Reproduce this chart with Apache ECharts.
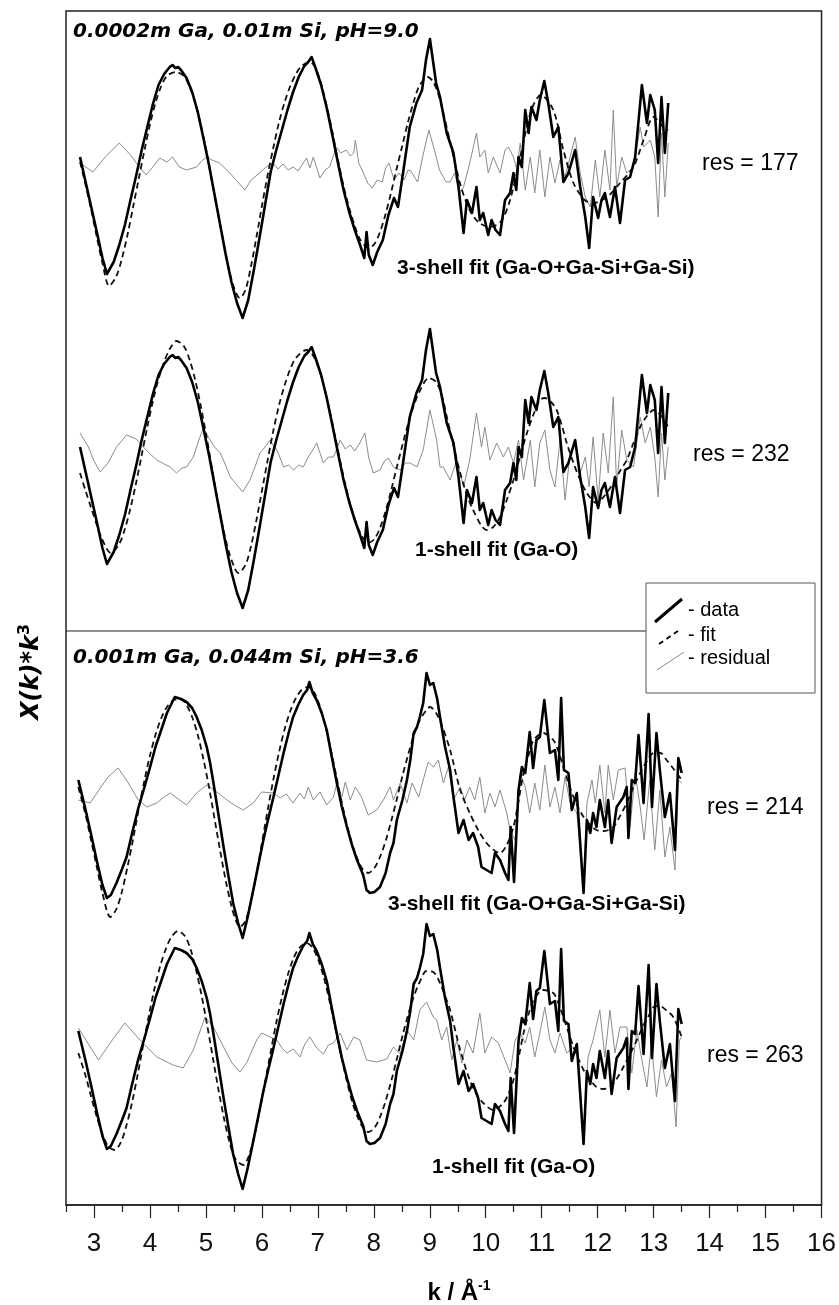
<!DOCTYPE html>
<html>
<head>
<meta charset="utf-8">
<script src="https://cdn.jsdelivr.net/npm/echarts@6/dist/echarts.min.js"></script>
<style>
html, body { margin: 0; padding: 0; background: #fff; }
#chart { width: 839px; height: 1305px; }
</style>
</head>
<body>
<div id="chart"></div>
<script>
// x axis ticks (k, 1/Angstrom)
var majorTicks = [3, 4, 5, 6, 7, 8, 9, 10, 11, 12, 13, 14, 15, 16];
var minorTicks = [2.5, 3.5, 4.5, 5.5, 6.5, 7.5, 8.5, 9.5, 10.5, 11.5, 12.5, 13.5, 14.5, 15.5];

// measured chi(k)*k^3, 0.0002m Ga / 0.01m Si / pH 9.0 (panels 1 and 2)
var dataA = [[2.75,0.8],[2.85,-1.7],[2.95,-4.2],[3.05,-6.7],[3.15,-9.3],[3.23,-10.9],[3.35,-9.7],[3.45,-8.0],[3.55,-6.0],[3.65,-3.5],[3.75,-1.1],[3.85,1.5],[3.95,3.8],[4.05,6.1],[4.15,8.0],[4.25,9.1],[4.35,9.8],[4.4,10.0],[4.45,9.7],[4.5,9.8],[4.55,9.5],[4.65,8.7],[4.75,7.3],[4.85,5.3],[4.95,2.7],[5.05,0.0],[5.15,-3.0],[5.25,-6.0],[5.35,-9.0],[5.45,-11.7],[5.55,-13.8],[5.65,-15.3],[5.75,-13.5],[5.85,-10.5],[5.95,-7.3],[6.05,-4.0],[6.15,-0.7],[6.25,1.5],[6.35,3.5],[6.45,5.5],[6.55,7.3],[6.65,8.8],[6.75,9.9],[6.82,10.3],[6.88,10.8],[6.95,9.7],[7.05,8.0],[7.15,5.7],[7.25,3.0],[7.35,0.2],[7.45,-2.5],[7.55,-4.7],[7.65,-6.5],[7.75,-8.1],[7.82,-9.3],[7.86,-6.7],[7.9,-9.0],[7.97,-10.0],[8.05,-8.7],[8.15,-7.5],[8.25,-5.0],[8.35,-3.3],[8.42,-4.2],[8.5,-1.2],[8.63,3.8],[8.75,6.2],[8.85,7.5],[8.92,10.5],[8.99,12.6],[9.1,8.2],[9.17,6.8],[9.29,3.2],[9.35,2.2],[9.41,1.2],[9.5,-2.2],[9.59,-6.8],[9.65,-3.5],[9.74,-4.8],[9.82,-2.2],[9.88,-5.5],[9.94,-4.8],[10.03,-7.0],[10.09,-5.5],[10.16,-6.5],[10.24,-7.0],[10.33,-3.5],[10.42,-2.8],[10.48,-0.8],[10.53,-2.5],[10.57,0.8],[10.63,-0.2],[10.69,5.5],[10.75,3.2],[10.8,5.8],[10.89,4.5],[10.95,6.5],[11.03,8.4],[11.1,6.2],[11.19,2.8],[11.28,3.8],[11.37,-1.7],[11.46,-0.8],[11.58,1.5],[11.67,-2.2],[11.76,-5.2],[11.83,-8.3],[11.9,-3.2],[11.99,-5.3],[12.05,-3.5],[12.11,-2.8],[12.2,-5.2],[12.29,-2.2],[12.38,-5.8],[12.47,-1.5],[12.56,-1.2],[12.65,0.8],[12.77,8.0],[12.86,4.2],[12.92,7.0],[13.0,5.5],[13.06,0.2],[13.12,6.8],[13.18,1.2],[13.24,6.2]];

// 3-shell fit and residual, panel 1
var fit1 = [[2.75,0.3],[2.85,-2.0],[2.95,-4.5],[3.05,-7.2],[3.15,-9.8],[3.27,-12.1],[3.4,-11.1],[3.5,-9.3],[3.6,-6.9],[3.7,-4.1],[3.8,-1.3],[3.9,1.5],[4.0,4.1],[4.1,6.3],[4.2,7.9],[4.3,8.9],[4.45,9.3],[4.6,8.9],[4.7,7.9],[4.8,6.3],[4.9,4.1],[5.0,1.5],[5.1,-1.5],[5.2,-4.5],[5.3,-7.5],[5.4,-10.3],[5.5,-12.3],[5.6,-13.3],[5.7,-12.5],[5.8,-10.1],[5.9,-7.1],[6.0,-3.9],[6.1,-0.9],[6.2,1.8],[6.3,4.3],[6.4,6.3],[6.5,7.9],[6.6,9.1],[6.7,9.9],[6.85,10.3],[6.95,9.7],[7.05,8.1],[7.15,5.9],[7.25,3.3],[7.35,0.5],[7.45,-2.1],[7.55,-4.3],[7.65,-6.1],[7.75,-7.5],[7.9,-8.3],[8.0,-7.9],[8.1,-6.7],[8.2,-4.9],[8.3,-2.7],[8.4,-0.3],[8.5,2.0],[8.6,4.3],[8.7,6.3],[8.8,7.9],[8.95,8.8],[9.05,8.3],[9.15,6.9],[9.25,4.7],[9.35,2.3],[9.45,-0.1],[9.55,-2.3],[9.7,-4.5],[9.85,-5.7],[10.05,-6.2],[10.25,-5.7],[10.42,-3.5],[10.6,0.8],[10.8,5.5],[10.97,7.0],[11.19,5.5],[11.37,1.5],[11.55,-1.8],[11.75,-3.5],[11.9,-3.8],[12.15,-3.2],[12.38,-1.8],[12.62,-0.2],[12.8,2.5],[12.98,4.8],[13.15,3.8],[13.24,3.5]];
var res1 = [[2.75,0.2],[2.98,-0.7],[3.2,0.8],[3.45,2.2],[3.65,1.0],[3.78,0.0],[3.93,-1.0],[4.05,-0.2],[4.17,0.7],[4.3,0.3],[4.4,0.8],[4.52,-0.2],[4.65,-0.5],[4.83,-0.2],[4.92,0.4],[5.01,0.8],[5.1,0.5],[5.24,0.2],[5.42,-0.8],[5.55,-1.6],[5.69,-2.5],[5.8,-1.5],[5.95,-0.8],[6.07,-0.2],[6.19,0.2],[6.28,-0.4],[6.37,0.1],[6.46,-0.5],[6.55,-0.2],[6.64,-0.6],[6.72,0.1],[6.79,0.7],[6.85,-0.3],[6.91,0.8],[7.03,-1.3],[7.12,-0.5],[7.2,-0.2],[7.32,1.8],[7.4,1.2],[7.5,1.5],[7.57,0.9],[7.63,1.2],[7.66,2.5],[7.72,0.2],[7.78,-0.5],[7.88,-1.8],[7.96,-2.3],[8.05,-1.5],[8.14,-1.7],[8.2,-0.3],[8.26,0.2],[8.35,-1.5],[8.44,-0.8],[8.53,-1.5],[8.6,-0.5],[8.65,-0.6],[8.77,-1.7],[8.86,0.8],[8.97,3.5],[9.07,1.5],[9.16,-0.5],[9.28,-1.7],[9.35,-1.7],[9.43,-0.8],[9.52,-2.8],[9.59,-2.2],[9.7,0.2],[9.82,3.2],[9.88,0.8],[9.97,1.5],[10.03,-0.8],[10.12,0.8],[10.24,-0.8],[10.33,1.5],[10.39,1.8],[10.48,0.8],[10.54,-0.5],[10.6,2.2],[10.69,-2.5],[10.78,0.8],[10.86,-2.8],[10.95,1.5],[11.04,-3.2],[11.13,0.8],[11.22,-1.8],[11.31,0.5],[11.4,-1.2],[11.49,0.8],[11.58,2.8],[11.67,-0.8],[11.76,-3.2],[11.85,-4.2],[11.94,0.5],[12.02,-3.2],[12.11,1.5],[12.2,-2.5],[12.26,5.5],[12.32,-2.2],[12.41,0.8],[12.5,-0.8],[12.62,-0.2],[12.74,3.8],[12.8,1.8],[12.92,2.5],[13.0,0.8],[13.06,-5.2],[13.12,3.2],[13.18,-3.2],[13.24,2.2]];

// 1-shell fit and residual, panel 2
var fit2 = [[2.75,-1.8],[2.85,-3.6],[2.95,-5.3],[3.05,-7.0],[3.15,-8.5],[3.3,-9.8],[3.45,-8.9],[3.55,-7.4],[3.65,-5.3],[3.75,-2.8],[3.85,0.0],[3.95,2.8],[4.05,5.4],[4.15,7.6],[4.25,9.3],[4.35,10.6],[4.47,11.4],[4.6,10.9],[4.7,9.6],[4.8,7.6],[4.9,5.0],[5.0,2.0],[5.1,-1.2],[5.2,-4.4],[5.3,-7.3],[5.4,-9.6],[5.5,-11.2],[5.57,-11.8],[5.7,-11.0],[5.8,-9.1],[5.9,-6.4],[6.0,-3.4],[6.1,-0.4],[6.2,2.5],[6.3,5.0],[6.4,7.0],[6.5,8.6],[6.6,9.7],[6.79,10.5],[6.9,10.0],[7.0,8.8],[7.1,6.9],[7.2,4.5],[7.3,1.8],[7.4,-0.9],[7.5,-3.4],[7.6,-5.5],[7.7,-7.2],[7.8,-8.3],[7.89,-8.8],[8.0,-8.4],[8.1,-7.3],[8.2,-5.6],[8.3,-3.5],[8.4,-1.2],[8.5,1.0],[8.6,3.1],[8.7,4.9],[8.8,6.3],[8.97,7.7],[9.1,7.3],[9.2,6.0],[9.3,3.6],[9.4,1.2],[9.53,-1.8],[9.65,-4.0],[9.76,-5.5],[9.9,-7.0],[10.0,-7.5],[10.12,-7.2],[10.24,-6.2],[10.36,-4.5],[10.48,-2.5],[10.6,-0.1],[10.72,2.2],[10.84,4.1],[10.95,5.5],[11.04,5.7],[11.15,5.3],[11.25,4.5],[11.34,3.0],[11.43,1.2],[11.55,-0.8],[11.67,-2.5],[11.8,-3.9],[11.96,-4.8],[12.1,-4.1],[12.26,-2.8],[12.38,-1.6],[12.5,-0.5],[12.62,1.2],[12.74,2.8],[12.86,3.9],[12.98,4.5],[13.1,4.0],[13.24,2.8]];
var res2 = [[2.75,2.2],[2.9,0.8],[3.0,-0.6],[3.11,-1.7],[3.25,-0.8],[3.4,0.8],[3.58,2.0],[3.75,1.6],[3.88,0.8],[4.0,0.1],[4.12,-0.5],[4.25,-0.9],[4.36,-1.2],[4.47,-1.8],[4.57,-1.3],[4.65,-1.2],[4.77,-0.2],[4.87,1.5],[4.95,2.7],[5.07,1.5],[5.15,0.8],[5.25,0.2],[5.33,-0.8],[5.43,-2.2],[5.55,-3.0],[5.65,-3.7],[5.78,-2.5],[5.87,-1.2],[5.96,0.2],[6.05,0.8],[6.14,1.5],[6.2,0.9],[6.26,0.5],[6.32,-0.3],[6.38,-1.2],[6.47,-1.0],[6.56,-1.5],[6.65,-1.0],[6.73,-1.2],[6.82,-0.2],[6.9,0.5],[6.97,1.2],[7.09,-0.8],[7.18,-0.2],[7.27,-0.2],[7.33,0.6],[7.39,1.5],[7.48,0.6],[7.57,1.0],[7.65,0.4],[7.74,1.2],[7.83,2.2],[7.9,-0.3],[7.98,-1.8],[8.1,-1.5],[8.18,-0.6],[8.25,-0.3],[8.34,-1.2],[8.46,-1.5],[8.55,-0.8],[8.64,-0.8],[8.76,-1.2],[8.87,0.5],[8.99,4.5],[9.11,1.5],[9.17,-1.2],[9.23,-1.2],[9.35,-2.5],[9.47,-0.5],[9.59,-3.2],[9.7,-0.5],[9.82,4.2],[9.91,0.8],[9.97,2.8],[10.06,-0.5],[10.18,1.2],[10.3,-0.2],[10.39,0.8],[10.48,-0.8],[10.57,1.5],[10.66,-2.5],[10.78,1.5],[10.86,-3.2],[10.95,1.2],[11.04,2.5],[11.13,-1.5],[11.22,-3.2],[11.31,1.5],[11.4,-4.5],[11.49,0.2],[11.58,1.5],[11.67,-1.8],[11.76,-0.2],[11.83,-3.2],[11.9,1.8],[11.99,-4.5],[12.08,2.2],[12.17,-1.8],[12.26,5.8],[12.32,-3.2],[12.41,2.5],[12.5,-0.5],[12.62,-1.2],[12.74,3.8],[12.83,1.2],[12.92,2.8],[13.0,-0.2],[13.06,-4.2],[13.12,2.2],[13.18,-2.5],[13.24,0.8]];

// measured chi(k)*k^3, 0.001m Ga / 0.044m Si / pH 3.6 (panels 3 and 4)
var dataB = [[2.72,1.5],[2.85,-1.5],[2.95,-4.0],[3.05,-6.6],[3.15,-9.0],[3.23,-10.3],[3.3,-10.0],[3.4,-8.8],[3.5,-7.4],[3.58,-6.2],[3.68,-3.8],[3.79,-1.3],[3.9,0.8],[4.0,2.8],[4.1,4.9],[4.18,6.2],[4.3,8.2],[4.44,9.8],[4.55,9.6],[4.65,9.3],[4.75,8.7],[4.83,7.8],[4.92,6.5],[5.01,4.8],[5.07,3.2],[5.13,1.2],[5.22,-2.0],[5.31,-5.2],[5.4,-8.2],[5.48,-10.8],[5.57,-12.8],[5.65,-14.3],[5.74,-12.2],[5.84,-9.5],[5.93,-7.0],[6.02,-4.5],[6.11,-2.3],[6.2,-0.2],[6.29,2.0],[6.38,4.2],[6.47,6.2],[6.55,7.8],[6.64,9.0],[6.73,10.0],[6.8,10.5],[6.84,11.3],[6.9,10.2],[6.97,9.5],[7.06,8.2],[7.15,6.5],[7.24,3.8],[7.33,1.2],[7.42,-1.2],[7.51,-3.2],[7.6,-5.0],[7.69,-6.5],[7.8,-8.0],[7.86,-9.5],[7.92,-9.8],[8.0,-9.7],[8.1,-9.2],[8.2,-7.8],[8.28,-5.8],[8.34,-4.8],[8.4,-2.5],[8.5,-0.5],[8.58,1.5],[8.64,3.5],[8.7,6.2],[8.76,6.8],[8.81,7.8],[8.87,9.2],[8.93,12.2],[8.99,11.0],[9.05,11.2],[9.12,9.6],[9.17,7.8],[9.26,4.8],[9.35,2.5],[9.41,-0.2],[9.5,-3.8],[9.59,-2.5],[9.68,-4.5],[9.76,-3.8],[9.85,-5.2],[9.91,-7.2],[10.0,-7.5],[10.09,-7.8],[10.15,-5.8],[10.24,-6.5],[10.33,-7.8],[10.39,-8.5],[10.43,-3.2],[10.49,-8.7],[10.57,0.5],[10.63,2.8],[10.69,2.2],[10.77,6.3],[10.83,2.7],[10.89,5.5],[10.95,5.8],[11.03,9.5],[11.13,4.2],[11.22,4.5],[11.28,1.5],[11.33,9.7],[11.38,2.5],[11.46,2.2],[11.52,-1.5],[11.61,0.2],[11.73,-9.8],[11.79,-2.5],[11.85,-3.8],[11.9,-1.8],[11.96,-3.2],[12.02,-0.5],[12.11,-3.2],[12.17,-0.5],[12.23,-4.8],[12.32,-1.2],[12.44,-0.2],[12.5,0.8],[12.53,-4.3],[12.59,1.5],[12.65,1.2],[12.71,6.0],[12.8,-0.8],[12.89,8.1],[12.95,-1.2],[13.03,6.2],[13.09,2.5],[13.18,-2.2],[13.27,0.2],[13.36,-5.5],[13.42,3.7],[13.48,2.2]];

// 3-shell fit and residual, panel 3
var fit3 = [[2.72,0.8],[2.85,-2.0],[2.95,-4.6],[3.05,-7.2],[3.15,-9.8],[3.29,-12.2],[3.4,-11.4],[3.5,-9.6],[3.6,-7.1],[3.7,-4.3],[3.8,-1.3],[3.9,1.5],[4.0,4.0],[4.1,6.1],[4.2,7.7],[4.3,8.8],[4.42,9.5],[4.55,9.6],[4.65,9.0],[4.75,7.8],[4.85,6.0],[4.95,3.6],[5.05,0.8],[5.15,-2.4],[5.25,-5.6],[5.35,-8.6],[5.45,-11.1],[5.52,-12.4],[5.6,-13.2],[5.7,-12.6],[5.8,-10.6],[5.9,-7.8],[6.0,-4.6],[6.1,-1.4],[6.2,1.6],[6.3,4.3],[6.4,6.6],[6.5,8.4],[6.6,9.7],[6.7,10.5],[6.82,10.8],[6.92,10.3],[7.02,9.0],[7.12,7.0],[7.22,4.6],[7.32,1.9],[7.42,-0.8],[7.52,-3.2],[7.62,-5.2],[7.72,-6.7],[7.8,-7.5],[7.89,-7.8],[8.0,-7.3],[8.1,-6.2],[8.2,-4.6],[8.3,-2.6],[8.4,-0.4],[8.5,1.9],[8.6,4.0],[8.7,5.9],[8.8,7.4],[8.93,8.5],[8.99,8.8],[9.1,8.2],[9.2,7.0],[9.35,4.5],[9.53,0.5],[9.7,-1.8],[9.85,-3.5],[10.0,-4.8],[10.15,-5.6],[10.24,-5.8],[10.36,-5.0],[10.48,-3.2],[10.57,-0.6],[10.66,2.2],[10.75,4.0],[10.84,5.5],[11.01,6.2],[11.19,5.5],[11.28,4.4],[11.37,2.8],[11.46,1.2],[11.55,-0.2],[11.64,-1.3],[11.73,-2.2],[11.85,-3.0],[11.96,-3.5],[12.1,-3.6],[12.26,-3.2],[12.38,-2.1],[12.5,-0.8],[12.62,0.8],[12.74,2.2],[12.86,3.4],[12.98,4.2],[13.1,4.2],[13.21,3.5],[13.35,2.5],[13.48,1.5]];
var res3 = [[2.72,-0.5],[2.93,-0.8],[3.1,0.6],[3.25,1.8],[3.43,2.7],[3.6,1.3],[3.79,-0.5],[3.94,-1.2],[4.12,-0.8],[4.25,-0.2],[4.36,0.2],[4.5,-0.4],[4.65,-1.0],[4.83,0.2],[5.01,1.0],[5.19,0.3],[5.37,-0.5],[5.5,-1.0],[5.66,-1.5],[5.84,-0.8],[5.99,0.3],[6.2,0.2],[6.32,-0.3],[6.43,0.1],[6.55,-0.8],[6.67,0.2],[6.75,-0.4],[6.82,0.8],[6.91,-0.5],[7.03,0.3],[7.15,-1.0],[7.27,-0.2],[7.33,1.2],[7.42,-0.2],[7.48,1.3],[7.57,-0.5],[7.66,0.8],[7.77,-0.2],[7.89,-2.0],[8.04,-1.5],[8.16,-0.5],[8.28,0.8],[8.34,-0.5],[8.46,1.2],[8.58,-0.8],[8.67,1.2],[8.79,-0.2],[8.87,1.5],[8.96,3.3],[9.05,2.8],[9.14,3.5],[9.23,1.2],[9.32,2.8],[9.41,-0.5],[9.53,0.8],[9.61,-0.5],[9.7,0.8],[9.79,-0.5],[9.88,1.8],[9.97,-1.8],[10.06,0.2],[10.15,-1.2],[10.24,0.5],[10.36,-1.8],[10.42,-3.5],[10.51,-4.5],[10.6,2.2],[10.69,0.8],[10.77,-1.8],[10.86,1.2],[10.95,-1.5],[11.04,3.0],[11.13,-1.2],[11.22,0.8],[11.31,-1.8],[11.4,1.8],[11.49,-0.8],[11.61,-1.8],[11.73,-9.2],[11.79,-0.8],[11.88,1.5],[11.94,-0.8],[12.02,3.0],[12.11,-1.8],[12.17,3.0],[12.26,-0.5],[12.35,2.5],[12.47,2.7],[12.56,-3.2],[12.65,2.2],[12.74,-1.2],[12.81,-4.5],[12.91,1.5],[13.0,-5.5],[13.09,0.5],[13.18,-6.2],[13.27,-3.2],[13.36,-7.5],[13.42,1.5],[13.48,1.2]];

// 1-shell fit and residual, panel 4
var fit4 = [[2.72,-0.7],[2.85,-3.0],[2.95,-5.1],[3.05,-7.1],[3.15,-8.8],[3.25,-10.0],[3.37,-10.4],[3.48,-9.6],[3.58,-7.9],[3.68,-5.6],[3.78,-2.8],[3.88,0.2],[3.98,3.1],[4.08,5.8],[4.18,8.0],[4.28,9.7],[4.38,10.9],[4.5,11.5],[4.62,11.0],[4.72,9.7],[4.82,7.6],[4.92,5.0],[5.02,2.0],[5.12,-1.2],[5.22,-4.4],[5.32,-7.3],[5.42,-9.7],[5.52,-11.3],[5.66,-11.9],[5.76,-11.0],[5.86,-9.0],[5.96,-6.3],[6.06,-3.3],[6.16,-0.3],[6.26,2.6],[6.36,5.1],[6.46,7.2],[6.56,8.8],[6.66,9.8],[6.79,10.3],[6.9,9.8],[7.0,8.6],[7.1,6.8],[7.2,4.5],[7.3,1.9],[7.4,-0.8],[7.5,-3.3],[7.6,-5.5],[7.7,-7.1],[7.8,-8.2],[7.89,-8.6],[8.0,-8.2],[8.1,-7.1],[8.2,-5.5],[8.3,-3.5],[8.4,-1.3],[8.5,1.0],[8.6,3.1],[8.7,4.9],[8.8,6.3],[8.93,7.5],[9.05,7.4],[9.17,6.3],[9.26,5.0],[9.35,3.6],[9.53,-0.4],[9.7,-3.4],[9.82,-4.8],[9.94,-5.7],[10.12,-6.4],[10.3,-5.7],[10.39,-4.8],[10.48,-3.4],[10.57,-1.2],[10.66,1.3],[10.75,3.2],[10.84,4.6],[11.01,5.6],[11.19,5.3],[11.28,4.3],[11.37,2.9],[11.46,1.4],[11.55,-0.1],[11.64,-1.3],[11.73,-2.4],[11.85,-3.4],[11.96,-4.1],[12.08,-4.3],[12.2,-4.1],[12.32,-3.3],[12.44,-2.1],[12.56,-0.8],[12.68,0.6],[12.8,2.1],[12.92,3.3],[12.98,3.9],[13.09,4.0],[13.2,3.6],[13.33,2.9],[13.48,0.9]];
var res4 = [[2.72,1.8],[2.9,0.2],[3.08,-1.4],[3.3,0.4],[3.55,2.3],[3.82,0.6],[4.12,-1.1],[4.41,-1.9],[4.59,-2.2],[4.77,-0.4],[4.98,2.9],[5.13,1.9],[5.31,-0.1],[5.46,-1.7],[5.6,-2.6],[5.72,-1.7],[5.9,0.6],[5.99,1.3],[6.14,0.9],[6.26,0.6],[6.35,-0.2],[6.44,-0.7],[6.55,-0.3],[6.67,-1.1],[6.76,0.2],[6.85,0.9],[6.97,-0.2],[7.09,-0.8],[7.18,0.1],[7.27,0.3],[7.39,1.3],[7.51,-0.4],[7.63,0.9],[7.74,0.6],[7.86,-1.4],[8.04,-1.6],[8.22,-1.3],[8.34,-0.1],[8.46,-0.8],[8.58,1.6],[8.7,0.6],[8.81,3.6],[8.93,4.4],[9.05,2.9],[9.11,2.6],[9.2,0.6],[9.29,1.9],[9.38,-1.4],[9.47,0.6],[9.56,-1.7],[9.65,0.6],[9.76,-0.7],[9.88,3.3],[9.97,-0.7],[10.09,0.9],[10.21,0.3],[10.33,-1.4],[10.42,-2.7],[10.51,0.6],[10.6,1.3],[10.69,0.3],[10.77,1.9],[10.86,-1.1],[10.95,1.3],[11.04,3.9],[11.13,0.6],[11.22,-0.7],[11.31,1.3],[11.43,-0.7],[11.55,-0.1],[11.64,-1.4],[11.73,-9.4],[11.81,-1.1],[11.9,0.6],[12.02,3.6],[12.11,-1.1],[12.2,3.6],[12.29,-0.7],[12.38,1.9],[12.5,1.9],[12.59,-2.7],[12.68,1.6],[12.77,-1.4],[12.86,-4.1],[12.94,0.3],[13.03,-5.1],[13.12,-1.4],[13.21,-4.1],[13.3,-2.7],[13.38,-8.1],[13.44,0.6],[13.48,0.9]];

var panelTitles = ['0.0002m Ga, 0.01m Si, pH=9.0', '0.001m Ga, 0.044m Si, pH=3.6'];
var fitLabels = ['3-shell fit (Ga-O+Ga-Si+Ga-Si)', '1-shell fit (Ga-O)', '3-shell fit (Ga-O+Ga-Si+Ga-Si)', '1-shell fit (Ga-O)'];
var resValues = [177, 232, 214, 263];

// layout: zero line of each panel (px) and the frame
var panelCenters = [165, 455, 795, 1046];
var frame = { left: 66, top: 11, width: 757, height: 1194 };
var kMin = 2.5, kMax = 16;

var panels = [
  { data: dataA, fit: fit1, res: res1 },
  { data: dataA, fit: fit2, res: res2 },
  { data: dataB, fit: fit3, res: res3 },
  { data: dataB, fit: fit4, res: res4 }
];

var grids = [{ left: frame.left, top: frame.top, width: frame.width, height: frame.height,
  show: true, borderColor: '#222', borderWidth: 1.5, backgroundColor: 'transparent' }];
var xAxes = [
  { gridIndex: 0, type: 'value', min: kMin, max: kMax, position: 'bottom',
    axisLine: { show: true, lineStyle: { color: '#222', width: 1.5 } },
    axisTick: { show: true, length: 13, customValues: majorTicks, lineStyle: { color: '#222', width: 1.2 } },
    axisLabel: { show: true, customValues: majorTicks, margin: 26, fontSize: 26, color: '#111',
      fontFamily: "'Liberation Sans Narrow', 'Liberation Sans', Arial, sans-serif" },
    splitLine: { show: false } },
  { gridIndex: 0, type: 'value', min: kMin, max: kMax, position: 'bottom',
    axisLine: { show: false },
    axisTick: { show: true, length: 7, customValues: minorTicks, lineStyle: { color: '#222', width: 1.2 } },
    axisLabel: { show: false }, splitLine: { show: false } }
];
var yAxes = [{ gridIndex: 0, type: 'value', min: 0, max: 1, show: false }];
var series = [];

panels.forEach(function (p, i) {
  var gi = i + 1;
  grids.push({ left: frame.left, width: frame.width, top: panelCenters[i] - 160, height: 320 });
  xAxes.push({ gridIndex: gi, type: 'value', min: kMin, max: kMax, show: false });
  yAxes.push({ gridIndex: gi, type: 'value', min: -16, max: 16, show: false });
  series.push({ type: 'line', xAxisIndex: gi + 1, yAxisIndex: gi, data: p.res, symbol: 'none',
    lineStyle: { color: '#8c8c8c', width: 1 }, z: 2 });
  series.push({ type: 'line', xAxisIndex: gi + 1, yAxisIndex: gi, data: p.fit, symbol: 'none', smooth: 0.3,
    lineStyle: { color: '#111', width: 1.8, type: [6, 4] }, z: 3 });
  series.push({ type: 'line', xAxisIndex: gi + 1, yAxisIndex: gi, data: p.data, symbol: 'none',
    lineStyle: { color: '#000', width: 2.6, join: 'round' }, z: 4 });
});

function txt(x, y, s, font, extra) {
  var o = { type: 'text', x: x, y: y, z: 50,
    style: { text: s, font: font, fill: '#000', align: 'left', textAlign: 'left', verticalAlign: 'middle', textVerticalAlign: 'middle' } };
  if (extra) { for (var k in extra) o.style[k] = extra[k]; }
  return o;
}
var titleFont = 'italic bold 20px "DejaVu Sans"';
var fitFont = 'bold 21px "Liberation Sans"';
var resFont = '23px "Liberation Sans"';
var legFont = '20px "Liberation Sans"';

var graphics = [
  txt(73, 32, panelTitles[0], titleFont),
  txt(73, 658, panelTitles[1], titleFont),
  txt(397, 268, fitLabels[0], fitFont),
  txt(415, 550, fitLabels[1], fitFont),
  txt(388, 904, fitLabels[2], fitFont),
  txt(432, 1167, fitLabels[3], fitFont),
  txt(702, 164, 'res = ' + resValues[0], resFont),
  txt(693, 455, 'res = ' + resValues[1], resFont),
  txt(707, 808, 'res = ' + resValues[2], resFont),
  txt(707, 1056, 'res = ' + resValues[3], resFont),
  // separator between the two samples
  { type: 'line', z: 40, shape: { x1: 66, y1: 631, x2: 646, y2: 631 }, style: { stroke: '#222', lineWidth: 1 } },
  // legend box
  { type: 'rect', z: 40, shape: { x: 646, y: 583, width: 169, height: 110 }, style: { fill: '#fff', stroke: '#555', lineWidth: 1 } },
  { type: 'line', z: 45, shape: { x1: 655, y1: 622, x2: 682, y2: 599 }, style: { stroke: '#000', lineWidth: 3 } },
  { type: 'line', z: 45, shape: { x1: 659, y1: 644, x2: 681, y2: 629 }, style: { stroke: '#000', lineWidth: 1.8, lineDash: [5, 4] } },
  { type: 'line', z: 45, shape: { x1: 657, y1: 670, x2: 684, y2: 652 }, style: { stroke: '#8c8c8c', lineWidth: 1 } },
  txt(688, 610, '- data', legFont),
  txt(688, 635, '- fit', legFont),
  txt(688, 658, '- residual', legFont),
  // axis titles
  { type: 'text', x: 459, y: 1293, z: 50,
    style: { text: '{b|k / Å}{s|-1}', align: 'center', textAlign: 'center', verticalAlign: 'middle', textVerticalAlign: 'middle', fill: '#000',
      rich: { b: { font: 'bold 24px "Liberation Sans"', lineHeight: 28, fill: '#000' },
              s: { font: 'bold 14px "Liberation Sans"', lineHeight: 14, verticalAlign: 'top', fill: '#000' } } } },
  { type: 'text', x: 32, y: 672, z: 50, rotation: Math.PI / 2,
    style: { text: '{b|X(k)*k}{s|3}', align: 'center', textAlign: 'center', verticalAlign: 'middle', textVerticalAlign: 'middle', fill: '#000',
      rich: { b: { font: 'italic bold 24px "DejaVu Sans"', lineHeight: 30, fill: '#000' },
              s: { font: 'bold 16px "DejaVu Sans"', lineHeight: 16, verticalAlign: 'top', fill: '#000' } } } }
];

var chart = echarts.init(document.getElementById('chart'), null, { renderer: 'canvas' });
chart.setOption({
  animation: false,
  backgroundColor: '#fff',
  grid: grids,
  xAxis: xAxes,
  yAxis: yAxes,
  series: series,
  graphic: graphics
});
</script>
</body>
</html>
